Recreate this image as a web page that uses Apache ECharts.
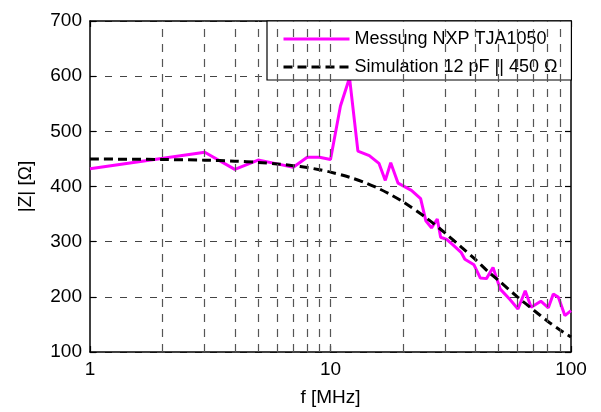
<!DOCTYPE html>
<html>
<head>
<meta charset="utf-8">
<script src="https://cdn.jsdelivr.net/npm/echarts@6/dist/echarts.min.js"></script>
<style>html,body{margin:0;padding:0;background:#fff}#c{width:601px;height:412px}</style>
</head>
<body>
<div id="c"></div>
<script>
const measFreq = [1, 3, 4, 5, 6, 7, 8, 9, 10, 11, 12, 13, 14.5, 15.9, 16.9, 17.8, 19.1, 21.7, 23.7, 24.9, 26.3, 27.8, 28.7, 30.4, 32.3, 35, 36.2, 39.5, 42, 44.5, 47.4, 50.8, 55.5, 60.2, 64.5, 68.3, 74.9, 80.5, 84.4, 88.7, 94.3, 100];
const measZ    = [432, 462, 431, 448, 441, 435, 453, 453, 449, 546, 597, 464, 456, 442, 411, 443, 406, 393, 378, 338, 325, 341, 308, 304, 294, 280, 268, 258, 234, 233, 253, 214, 196, 178, 211, 181, 192, 180, 205, 199, 166, 175];
const simFreq  = [1, 1.5, 2, 3, 4, 5, 6, 7, 8, 9, 10, 12, 14, 16, 18, 20, 25, 30, 35, 40, 45, 50, 60, 70, 80, 90, 100];
const simZ     = [450, 449.4, 449, 447.7, 445.9, 443.7, 441, 437.8, 434.3, 430.4, 426.1, 416.8, 406.5, 395.5, 384, 372.4, 343.2, 315.4, 289.9, 267.8, 246.6, 229.6, 199.6, 175.7, 155.8, 140, 127];
const xGridVals = [2, 3, 4, 5, 6, 7, 8, 9, 10, 20, 30, 40, 50, 60, 70, 80, 90];
const yMin = 100, yMax = 700, yStep = 100;
const xMin = 1, xMax = 100;
const measName = 'Messung NXP TJA1050';
const simName = 'Simulation 12 pF || 450 Ω';

const FONT = 'Liberation Sans, Arial, Helvetica, sans-serif';
const chart = echarts.init(document.getElementById('c'));
const axisLineStyle = {show: true, lineStyle: {color: '#000', width: 1.5}};
chart.setOption({
  animation: false,
  backgroundColor: '#fff',
  textStyle: {fontFamily: FONT},
  grid: {left: 90, right: 30, top: 21, bottom: 57, containLabel: false},
  legend: {
    show: true,
    orient: 'vertical', left: 267, top: 21,
    padding: [9, 14, 4, 15],
    itemWidth: 66, itemHeight: 18, itemGap: 10,
    backgroundColor: '#fff', borderColor: '#000', borderWidth: 1.2, borderRadius: 0,
    textStyle: {fontSize: 18, color: '#000', fontFamily: FONT},
    itemStyle: {opacity: 0},
    lineStyle: {width: 3},
    data: [
      {name: measName, itemStyle: {opacity: 0}, lineStyle: {color: '#ff00ff', width: 3}},
      {name: simName, itemStyle: {opacity: 0}, lineStyle: {color: '#000', width: 3, type: [9, 5]}}
    ]
  },
  xAxis: [{
    type: 'log', logBase: 10, min: xMin, max: xMax, position: 'bottom',
    name: 'f [MHz]', nameLocation: 'middle', nameGap: 36,
    nameTextStyle: {fontSize: 19, color: '#000', fontFamily: FONT},
    axisLine: axisLineStyle,
    axisTick: {show: true, inside: true, length: 6, lineStyle: {color: '#000', width: 1.2}},
    axisLabel: {fontSize: 19, color: '#000', margin: 8, fontFamily: FONT},
    splitLine: {show: false}
  }, {
    type: 'log', logBase: 10, min: xMin, max: xMax, position: 'top',
    axisLine: axisLineStyle,
    axisTick: {show: true, inside: true, length: 6, lineStyle: {color: '#000', width: 1.2}},
    axisLabel: {show: false}, splitLine: {show: false}
  }],
  yAxis: [{
    type: 'value', min: yMin, max: yMax, interval: yStep, position: 'left',
    name: '|Z| [Ω]', nameLocation: 'middle', nameGap: 55, nameRotate: 90,
    nameTextStyle: {fontSize: 19, color: '#000', fontFamily: FONT},
    axisLine: axisLineStyle,
    axisTick: {show: true, inside: true, length: 6, lineStyle: {color: '#000', width: 1.2}},
    axisLabel: {fontSize: 19, color: '#000', margin: 8, fontFamily: FONT},
    splitLine: {show: true, lineStyle: {color: '#444', width: 1, type: [7, 8]}}
  }, {
    type: 'value', min: yMin, max: yMax, interval: yStep, position: 'right',
    axisLine: axisLineStyle,
    axisTick: {show: true, inside: true, length: 6, lineStyle: {color: '#000', width: 1.2}},
    axisLabel: {show: false}, splitLine: {show: false}
  }],
  series: [{
    name: 'vgrid', type: 'line', data: [], silent: true, z: 1,
    markLine: {
      silent: true, symbol: ['none', 'none'], label: {show: false}, animation: false,
      lineStyle: {color: '#555', width: 1.2, type: [8, 7]},
      emphasis: {disabled: true},
      data: xGridVals.map(v => ({xAxis: v}))
    }
  }, {
    name: measName, type: 'line', symbol: 'none', z: 3,
    data: measFreq.map((f, i) => [f, measZ[i]]),
    lineStyle: {color: '#ff00ff', width: 3},
    itemStyle: {color: '#ff00ff'}
  }, {
    name: simName, type: 'line', symbol: 'none', smooth: 0.3, z: 4,
    data: simFreq.map((f, i) => [f, simZ[i]]),
    lineStyle: {color: '#000', width: 3, type: [9, 5]},
    itemStyle: {color: '#000'}
  }]
});
</script>
</body>
</html>
